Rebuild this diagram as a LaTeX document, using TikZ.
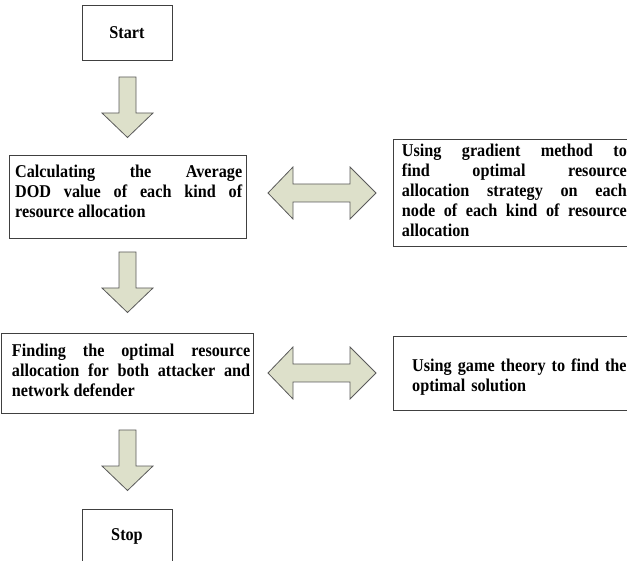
\documentclass[tikz,border=0pt]{standalone}
\usepackage{fontspec}
\setmainfont[FakeStretch=0.9]{Liberation Serif}
\definecolor{boxgray}{RGB}{64,64,64}
\definecolor{arrowfill}{RGB}{221,224,202}
\definecolor{arrowline}{RGB}{90,90,90}
\begin{document}
\begin{tikzpicture}[x=1pt,y=-1pt,
  box/.style={draw=boxgray, line width=0.8pt, rectangle, inner sep=0pt},
  txt/.style={inner sep=0pt, anchor=north west, align=justify, font=\bfseries\fontsize{18}{20}\selectfont},
  endtxt/.style={font=\bfseries\fontsize{18}{20}\selectfont},
  blockarrow/.style={fill=arrowfill, draw=arrowline, line width=0.8pt, line join=miter},
  downarr/.pic={\path[blockarrow] (-8.5,0) -- (-8.5,36) -- (-25.5,36) -- (0,60.5) -- (25.5,36) -- (8.5,36) -- (8.5,0) -- cycle;},
  lrarr/.pic={\path[blockarrow] (0,0) -- (25,-26) -- (25,-9) -- (82,-9) -- (82,-26) -- (108,0) -- (82,26) -- (82,9) -- (25,9) -- (25,26) -- cycle;}]
\useasboundingbox (0,0) rectangle (627,561);
\clip (0,0) rectangle (627,561);
% boxes
\node[box, endtxt, minimum width=90pt, minimum height=55pt] (start) at (127,32.5) {Start};
\node[box, minimum width=237.4pt, minimum height=83pt] (b2) at (128,196.5) {};
\node[box, minimum width=247pt, minimum height=107pt] (b3) at (516.5,192.5) {};
\node[box, minimum width=252pt, minimum height=80pt] (b4) at (127,373) {};
\node[box, minimum width=247pt, minimum height=74pt] (b5) at (516.5,373) {};
\node[box, endtxt, minimum width=90pt, minimum height=54pt] (stop) at (127,536) {Stop};
% texts
\node[txt, text width=227pt] (t2) at (15,163.7) {\strut Calculating the Average\linebreak DOD value of each kind of\linebreak resource allocation};
\node[txt, text width=225pt] (t3) at (401.7,142) {\strut Using gradient method to\linebreak find optimal resource\linebreak allocation strategy on each\linebreak node of each kind of resource\linebreak allocation};
\node[txt, text width=238.3pt] (t4) at (11.7,342.7) {\strut Finding the optimal resource\linebreak allocation for both attacker and\linebreak network defender};
\node[txt, text width=225pt, align=left] (t5) at (412,357.7) {\strut Using game theory to find the\\optimal solution};
% block arrows
\pic at (127.5,77) {downarr};
\pic at (127.5,252) {downarr};
\pic at (127.5,430) {downarr};
\pic at (268,193) {lrarr};
\pic at (268,373) {lrarr};
\end{tikzpicture}
\end{document}
